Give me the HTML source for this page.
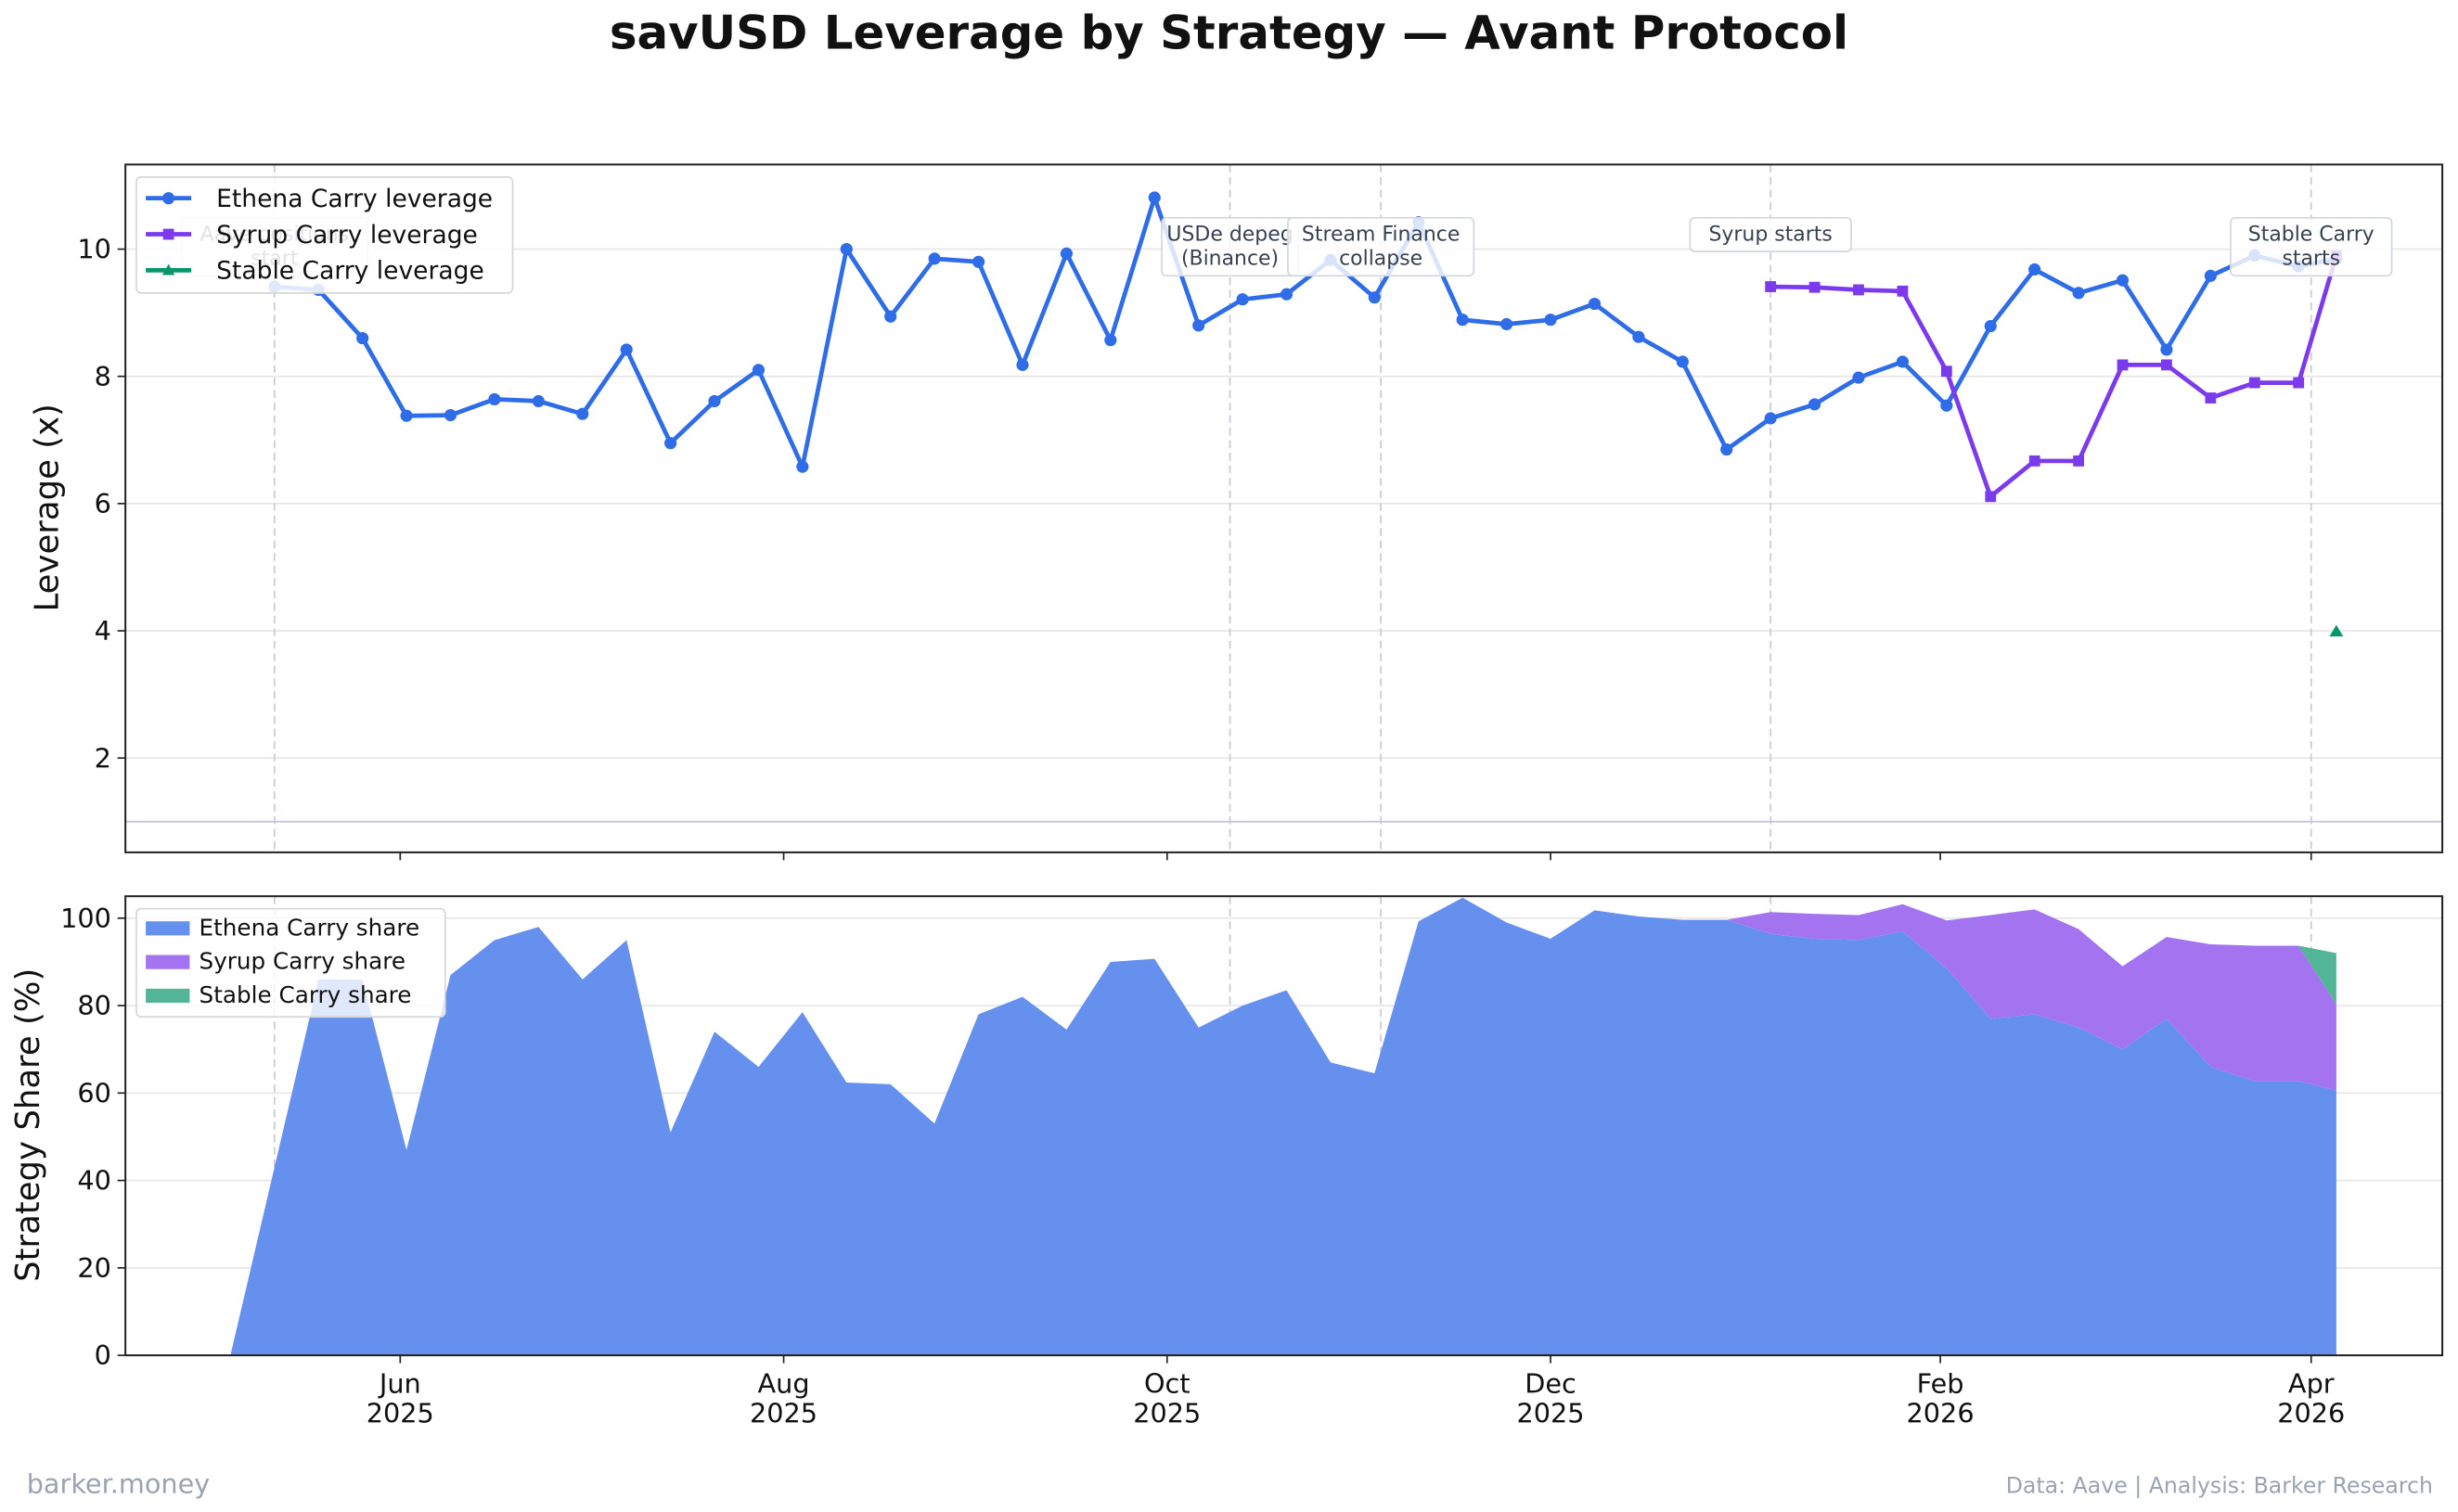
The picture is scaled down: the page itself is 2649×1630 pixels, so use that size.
<!DOCTYPE html>
<html><head><meta charset="utf-8"><style>
html,body{margin:0;padding:0;background:#fff;}
svg{display:block;font-family:"DejaVu Sans","Liberation Sans",sans-serif;}
</style></head><body>
<svg id="chart" width="2649" height="1630" viewBox="0 0 1568 965" preserveAspectRatio="none" xmlns="http://www.w3.org/2000/svg"></svg>
<script>
const weekStart = "2025-05-05";
const lastDate = "2026-04-05";
const ethenaLev = [null,9.41,9.36,8.6,7.38,7.39,7.64,7.61,7.41,8.42,6.95,7.61,8.1,6.58,10.0,8.94,9.85,9.8,8.18,9.93,8.57,10.81,8.8,9.21,9.29,9.83,9.24,10.42,8.89,8.82,8.89,9.14,8.62,8.23,6.85,7.34,7.56,7.98,8.23,7.54,8.79,9.68,9.31,9.51,8.42,9.58,9.9,9.73,9.85];
const syrupLev = [null,null,null,null,null,null,null,null,null,null,null,null,null,null,null,null,null,null,null,null,null,null,null,null,null,null,null,null,null,null,null,null,null,null,null,9.41,9.4,9.36,9.34,8.08,6.11,6.67,6.67,8.18,8.18,7.66,7.9,7.9,9.9];
const stableLev = [null,null,null,null,null,null,null,null,null,null,null,null,null,null,null,null,null,null,null,null,null,null,null,null,null,null,null,null,null,null,null,null,null,null,null,null,null,null,null,null,null,null,null,null,null,null,null,null,3.99];
const ethenaShare = [0,43,86,86,47,87,95,98,86,95,51,74,66,78.5,62.4,62,53,78,82,74.5,90,90.7,75,80,83.5,67,64.5,99.3,104.7,99,95.3,101.8,100.4,99.6,99.6,96.4,95.3,95,97,88.5,77,78,75,70,77,66,62.7,62.7,60.6];
const syrupShare = [0,0,0,0,0,0,0,0,0,0,0,0,0,0,0,0,0,0,0,0,0,0,0,0,0,0,0,0,0,0,0,0,0,0,0,5,5.7,5.7,6.2,11,23.7,24,22.5,19,18.7,28,31,31,19.7];
const stableShare = [0,0,0,0,0,0,0,0,0,0,0,0,0,0,0,0,0,0,0,0,0,0,0,0,0,0,0,0,0,0,0,0,0,0,0,0,0,0,0,0,0,0,0,0,0,0,0,0,11.7];
const eventDates = ["2025-05-12","2025-10-11","2025-11-04","2026-01-05","2026-04-01"];
const eventLabels = [["Aave positions","start"],["USDe depeg","(Binance)"],["Stream Finance","collapse"],["Syrup starts"],["Stable Carry","starts"]];
const xTickDates = ["2025-06-01","2025-08-01","2025-10-01","2025-12-01","2026-02-01","2026-04-01"];
const xTickLabels = [["Jun","2025"],["Aug","2025"],["Oct","2025"],["Dec","2025"],["Feb","2026"],["Apr","2026"]];
const levTicks = [2,4,6,8,10];
const shareTicks = [0,20,40,60,80,100];

const NS="http://www.w3.org/2000/svg";
const svg=document.getElementById('chart');
function el(tag,attrs,parent){const e=document.createElementNS(NS,tag);for(const k in attrs)e.setAttribute(k,attrs[k]);(parent||svg).appendChild(e);return e;}
function txt(s,attrs,parent){const e=el('text',attrs,parent);e.textContent=s;return e;}
const DAY=86400000, ref=Date.UTC(2025,5,1);
function parse(d){const p=d.split('-');return Date.UTC(+p[0],+p[1]-1,+p[2]);}
function xOf(d){return 255.3+4.01*((parse(d)-ref)/DAY);}
const dates=[];{const s=parse(weekStart);for(let i=0;i<48;i++){const t=new Date(s+i*7*DAY);dates.push(t.toISOString().slice(0,10));}dates.push(lastDate);}
const L=80,R=1558,T1=105,B1=544,T2=572,B2=865;
const y1=v=>565-40.6*v;
const y2=v=>865-2.79*v;

let t=txt('savUSD Leverage by Strategy — Avant Protocol',{x:784,y:31,'text-anchor':'middle','font-size':29.5,'font-weight':'bold',fill:'#111'});


levTicks.forEach(v=>{const g=el('line',{x1:L,x2:R,y1:y1(v),y2:y1(v),stroke:'#e5e5e5','stroke-width':1});});
shareTicks.forEach(v=>{const g=el('line',{x1:L,x2:R,y1:y2(v),y2:y2(v),stroke:'#e5e5e5','stroke-width':1});});
let rl=el('line',{x1:L,x2:R,y1:y1(1),y2:y1(1),stroke:'#c8c8dc','stroke-width':1.2});


eventDates.forEach(d=>{const x=xOf(d);
 const a=el('line',{x1:x,x2:x,y1:T1,y2:B1,stroke:'#c9c9d3','stroke-width':1,'stroke-dasharray':'5,3'});
 const b=el('line',{x1:x,x2:x,y1:T2,y2:B2,stroke:'#c9c9d3','stroke-width':1,'stroke-dasharray':'5,3'});});

function area(lower,upper,color,name){let pts=[];for(let i=0;i<dates.length;i++)pts.push(xOf(dates[i]).toFixed(1)+','+y2(upper[i]).toFixed(1));for(let i=dates.length-1;i>=0;i--)pts.push(xOf(dates[i]).toFixed(1)+','+y2(lower[i]).toFixed(1));const p=el('polygon',{points:pts.join(' '),fill:color});}
const zeros=ethenaShare.map(()=>0);
const s1=ethenaShare.slice();
const s2=ethenaShare.map((v,i)=>v+syrupShare[i]);
const s3=s2.map((v,i)=>v+stableShare[i]);
area(zeros,s1,'#6690ee','ethena-share-area');
area(s1,s2,'#a474f0','syrup-share-area');
area(s2,s3,'#52b595','stable-share-area');

function series(vals,color,marker,name){let segs=[],cur=[];vals.forEach((v,i)=>{if(v==null){if(cur.length)segs.push(cur);cur=[];}else cur.push([xOf(dates[i]),y1(v)]);});if(cur.length)segs.push(cur);
 segs.forEach(s=>{if(s.length>1){const p=el('polyline',{points:s.map(q=>q[0].toFixed(1)+','+q[1].toFixed(1)).join(' '),fill:'none',stroke:color,'stroke-width':2.8,'stroke-linejoin':'round'});}
  s.forEach(q=>{let m;if(marker==='o')m=el('circle',{cx:q[0],cy:q[1],r:3.9,fill:color});else if(marker==='s')m=el('rect',{x:q[0]-3.5,y:q[1]-3.5,width:7,height:7,fill:color});else m=el('polygon',{points:`${q[0]},${q[1]-4.2} ${q[0]-4.4},${q[1]+3.2} ${q[0]+4.4},${q[1]+3.2}`,fill:color});});});}
series(ethenaLev,'#2f6ce8','o','ethena-leverage');
series(syrupLev,'#7c3aed','s','syrup-leverage');
series(stableLev,'#079669','^','stable-leverage');

eventDates.forEach((d,i)=>{const x=xOf(d);const lines=eventLabels[i];
 const w=Math.max(...lines.map(s=>s.length))*7.9+8;const h=lines.length*15.5+6;const top=139;
 const g=el('g',{});
 el('rect',{x:x-w/2,y:top,width:w,height:h,rx:3,fill:'#fff','fill-opacity':0.82,stroke:'#d3d6dc','stroke-width':1},g);
 lines.forEach((s,j)=>txt(s,{x:x,y:top+14.5+j*15.5,'text-anchor':'middle','font-size':13,fill:'#374151'},g));});

[[T1,B1],[T2,B2]].forEach(([a,b],k)=>{const r=el('rect',{x:L,y:a,width:R-L,height:b-a,fill:'none',stroke:'#222','stroke-width':1.2});});

levTicks.forEach(v=>{el('line',{x1:L-5,x2:L,y1:y1(v),y2:y1(v),stroke:'#222'});const e=txt(String(v),{x:L-9,y:y1(v)+6,'text-anchor':'end','font-size':17,fill:'#111'});});
shareTicks.forEach(v=>{el('line',{x1:L-5,x2:L,y1:y2(v),y2:y2(v),stroke:'#222'});const e=txt(String(v),{x:L-9,y:y2(v)+6,'text-anchor':'end','font-size':17,fill:'#111'});});
xTickDates.forEach((d,i)=>{const x=xOf(d);el('line',{x1:x,x2:x,y1:B1,y2:B1+5,stroke:'#222'});el('line',{x1:x,x2:x,y1:B2,y2:B2+5,stroke:'#222'});
 const e=txt(xTickLabels[i][0],{x:x,y:889,'text-anchor':'middle','font-size':17,fill:'#111'});
 const f=txt(xTickLabels[i][1],{x:x,y:908,'text-anchor':'middle','font-size':17,fill:'#111'});});

let ya=txt('Leverage (x)',{x:0,y:0,'text-anchor':'middle','font-size':21,fill:'#111',transform:'translate(37,324) rotate(-90)'});
let yb=txt('Strategy Share (%)',{x:0,y:0,'text-anchor':'middle','font-size':21,fill:'#111',transform:'translate(25,718) rotate(-90)'});

const lg=el('g',{});
el('rect',{x:87,y:113,width:240,height:74,rx:3,fill:'#fff','fill-opacity':0.85,stroke:'#d6d6d6'},lg);
[['Ethena Carry leverage','#2f6ce8','o'],['Syrup Carry leverage','#7c3aed','s'],['Stable Carry leverage','#079669','^']].forEach((e,i)=>{const yy=126+i*23;
 const g=el('g',{},lg);
 el('line',{x1:93,x2:122,y1:yy+0.5,y2:yy+0.5,stroke:e[1],'stroke-width':2.8},g);
 if(e[2]==='o')el('circle',{cx:107.5,cy:yy+0.5,r:3.9,fill:e[1]},g);else if(e[2]==='s')el('rect',{x:104,y:yy-3,width:7,height:7,fill:e[1]},g);else el('polygon',{points:`107.5,${yy-3.5} 103.5,${yy+3.5} 111.5,${yy+3.5}`,fill:e[1]},g);
 txt(e[0],{x:138,y:yy+6,'font-size':15.7,fill:'#111'},g);});

const lb=el('g',{});
el('rect',{x:87,y:580,width:197,height:69,rx:3,fill:'#fff','fill-opacity':0.8,stroke:'#d6d6d6'},lb);
[['Ethena Carry share','#6690ee'],['Syrup Carry share','#a474f0'],['Stable Carry share','#52b595']].forEach((e,i)=>{const yy=592+i*21.5;
 const g=el('g',{},lb);
 el('rect',{x:93,y:yy-4,width:28,height:9,fill:e[1]},g);
 txt(e[0],{x:127,y:yy+5,'font-size':14.6,fill:'#111'},g);});

let f1=txt('barker.money',{x:17,y:953,'font-size':17,fill:'#9aa3b2'});
let f2=txt('Data: Aave | Analysis: Barker Research',{x:1552,y:953,'text-anchor':'end','font-size':14,fill:'#9aa3b2'});
</script>
</body></html>
